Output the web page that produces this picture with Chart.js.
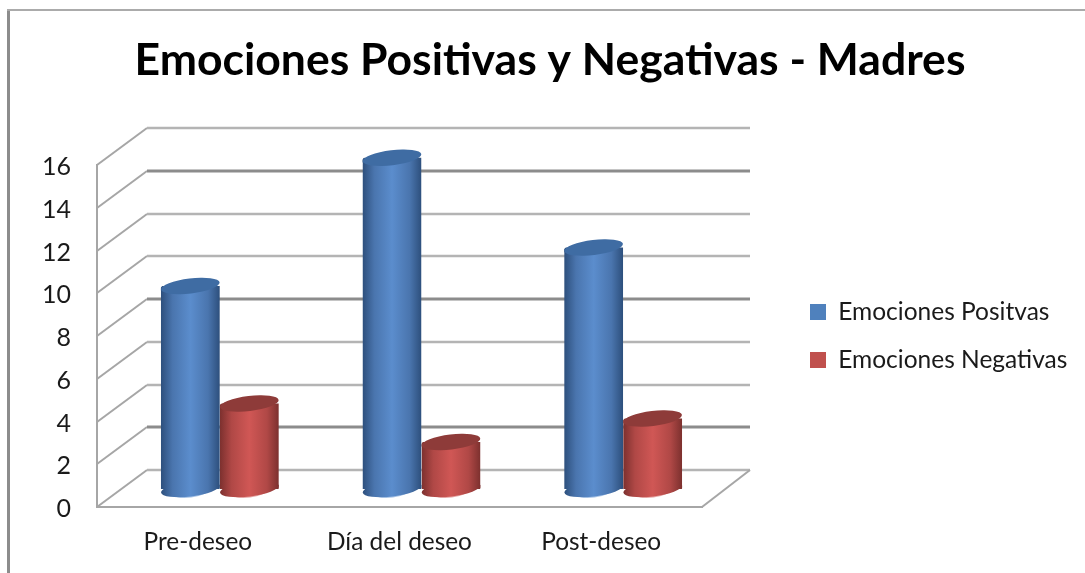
<!DOCTYPE html>
<html><head><meta charset="utf-8">
<script src="https://cdn.jsdelivr.net/npm/chart.js@4"></script>
<style>html,body{margin:0;padding:0;background:#fff;overflow:hidden}canvas{display:block}</style>
</head><body><canvas id="c" width="1085" height="573"></canvas>
<script>
const categories = ["Pre-deseo", "Día del deseo", "Post-deseo"];
const positivas = [9.5, 15.5, 11.3];
const negativas = [4, 2.2, 3.3];
const seriesNames = ["Emociones Positvas", "Emociones Negativas"];
const yTicks = [0, 2, 4, 6, 8, 10, 12, 14, 16];

const FONT = "Lato";
const BAR_SHIFT = {x: 22, y: -18};
const WALL_SHIFT = {x: 50, y: -37};
const WALL_RIGHT = 750;
const TILT = -7 * Math.PI / 180;
const shades = {
  blue: {swatch:"#4f81bd", edge:"#2d4f7c", mid:"#5b8dcd", top:"#3f6ca3", rim:"#a9c4e6"},
  red:  {swatch:"#c0504d", edge:"#7c302e", mid:"#d05755", top:"#8e3b39", rim:"#e6a9a8"}
};
const darkLines = [2, 8, 14];

function mix(a, b, t){
  let out = "#";
  for (let i = 1; i < 7; i += 2){
    const v = Math.round(parseInt(a.substr(i,2),16)*(1-t) + parseInt(b.substr(i,2),16)*t);
    out += v.toString(16).padStart(2,"0");
  }
  return out;
}
function cylGradient(c, x0, x1, shade){
  const g = c.createLinearGradient(x0, 0, x1, 0);
  g.addColorStop(0, shade.edge);
  g.addColorStop(0.2, mix(shade.edge, shade.mid, 0.62));
  g.addColorStop(0.5, shade.mid);
  g.addColorStop(0.8, mix(shade.edge, shade.mid, 0.62));
  g.addColorStop(1, shade.edge);
  return g;
}
function barFill(shade, side){
  return function(ctx){
    if (ctx.type !== "data" || !ctx.chart.scales.x) return shade.swatch;
    const s = ctx.chart.scales.x;
    const w = s.width / categories.length * 0.585 / 2;
    const c = s.getPixelForValue(ctx.dataIndex);
    if (!isFinite(c)) return shade.swatch;
    const x0 = side < 0 ? c - w : c;
    return cylGradient(ctx.chart.ctx, x0, x0 + w, shade);
  };
}
function ellipse(ctx, x, y, rx, fill){
  ctx.beginPath();
  ctx.ellipse(x, y, rx, 7.5, TILT, 0, Math.PI * 2);
  ctx.fillStyle = fill;
  ctx.fill();
}

const cylinders = {
  id: "cylinders",
  beforeDatasetDraw(chart, args){
    const ctx = chart.ctx, shade = chart.data.datasets[args.index].shade;
    ctx.save();
    ctx.translate(BAR_SHIFT.x, BAR_SHIFT.y);
    // round the square bar ends off along the tilted ellipses
    ctx.beginPath();
    args.meta.data.forEach(bar => {
      const rx = bar.width / 2, d = rx * Math.sin(-TILT);
      ctx.moveTo(bar.x - rx, bar.y + d);
      ctx.lineTo(bar.x + rx, bar.y - d);
      ctx.lineTo(bar.x + rx, bar.base - d);
      ctx.lineTo(bar.x - rx, bar.base + d);
      ctx.closePath();
      ctx.moveTo(bar.x + rx + 1, bar.y);
      ctx.ellipse(bar.x, bar.y, rx + 1, 8.5, TILT, 0, Math.PI * 2);
      ctx.moveTo(bar.x + rx + 1, bar.base + 1);
      ctx.ellipse(bar.x, bar.base + 1, rx + 1, 8.5, TILT, 0, Math.PI * 2);
    });
    ctx.clip();
    args.meta.data.forEach(bar => {
      const rx = bar.width / 2;
      ellipse(ctx, bar.x, bar.base + 1, rx * 0.7, shade.rim);
      ellipse(ctx, bar.x, bar.base, rx, cylGradient(ctx, bar.x - rx, bar.x + rx, shade));
    });
  },
  afterDatasetDraw(chart, args){
    const ctx = chart.ctx, shade = chart.data.datasets[args.index].shade;
    args.meta.data.forEach(bar => {
      ellipse(ctx, bar.x, bar.y, bar.width / 2, shade.top);
    });
    ctx.restore();
  }
};

const walls = {
  id: "walls",
  afterLayout(chart){
    const t = chart.titleBlock;
    t.left = 15; t.right = chart.width; t.width = t.right - t.left;
    const l = chart.legend;
    l.left = 786.5; l.right = chart.width; l.width = l.right - l.left;
    l.top = chart.chartArea.top; l.bottom = chart.chartArea.bottom;
  },
  beforeDraw(chart){
    const ctx = chart.ctx, y = chart.scales.y, a = chart.chartArea;
    ctx.save();
    ctx.fillStyle = "#fff";
    ctx.fillRect(0, 0, chart.width, chart.height);
    ctx.fillStyle = "#8c8c8c";
    ctx.fillRect(7, 9, 3, chart.height - 9);
    ctx.fillStyle = "#ababab";
    ctx.fillRect(7, 9, chart.width - 7, 2);
    yTicks.forEach(v => {
      const p = Math.round(y.getPixelForValue(v));
      ctx.strokeStyle = "#a6a6a6";
      ctx.lineWidth = 2;
      ctx.beginPath();
      ctx.moveTo(a.left, p);
      ctx.lineTo(a.left + WALL_SHIFT.x, p + WALL_SHIFT.y);
      ctx.stroke();
      const dark = darkLines.includes(v);
      ctx.strokeStyle = dark ? "#8c8c8c" : "#b4b4b4";
      ctx.lineWidth = dark ? 3 : 2.5;
      ctx.beginPath();
      ctx.moveTo(a.left + WALL_SHIFT.x, p + WALL_SHIFT.y);
      ctx.lineTo(WALL_RIGHT, p + WALL_SHIFT.y);
      ctx.stroke();
    });
    const p0 = y.getPixelForValue(0);
    ctx.strokeStyle = "#a6a6a6";
    ctx.lineWidth = 2;
    ctx.beginPath();
    ctx.moveTo(a.right, p0);
    ctx.lineTo(WALL_RIGHT, p0 + WALL_SHIFT.y);
    ctx.stroke();
    ctx.restore();
  }
};

new Chart(document.getElementById("c"), {
  type: "bar",
  plugins: [walls, cylinders],
  data: {
    labels: categories,
    datasets: [
      {label: seriesNames[0], data: positivas, shade: shades.blue, backgroundColor: barFill(shades.blue, -1), clip: false},
      {label: seriesNames[1], data: negativas, shade: shades.red, backgroundColor: barFill(shades.red, 1), clip: false}
    ]
  },
  options: {
    responsive: false,
    animation: false,
    layout: {padding: {left: 0, right: 383, top: 0, bottom: 0}},
    datasets: {bar: {categoryPercentage: 0.585, barPercentage: 1, borderWidth: 0}},
    plugins: {
      tooltip: {enabled: false},
      title: {
        display: true,
        text: "Emociones Positivas y Negativas - Madres",
        color: "#000",
        font: {family: FONT, size: 44.5, weight: "bold", lineHeight: 1.2},
        padding: {top: 34, bottom: 77.6}
      },
      legend: {
        position: "chartArea",
        align: "center",
        labels: {
          color: "#1a1a1a",
          font: {family: FONT, size: 24.5, lineHeight: 1.2},
          boxWidth: 16, boxHeight: 16,
          padding: 23.5,
          generateLabels(chart){
            return Chart.defaults.plugins.legend.labels.generateLabels(chart).map(item => {
              const swatch = chart.data.datasets[item.datasetIndex].shade.swatch;
              return Object.assign(item, {fillStyle: swatch, strokeStyle: swatch, lineWidth: 0});
            });
          }
        }
      }
    },
    scales: {
      x: {
        grid: {display: false, drawTicks: false},
        border: {display: true, color: "#a6a6a6", width: 2},
        ticks: {color: "#1a1a1a", font: {family: FONT, size: 24.4}, padding: 21, maxRotation: 0},
        afterFit(s){ s.height = 66; }
      },
      y: {
        min: 0, max: 16,
        afterBuildTicks(s){ s.ticks = yTicks.map(v => ({value: v})); },
        grid: {display: false, drawTicks: false},
        border: {display: true, color: "#a6a6a6", width: 2},
        ticks: {color: "#1a1a1a", font: {family: FONT, size: 25}, padding: 26, labelOffset: 2},
        afterFit(s){ s.width = 97; }
      }
    }
  }
});
</script></body></html>
